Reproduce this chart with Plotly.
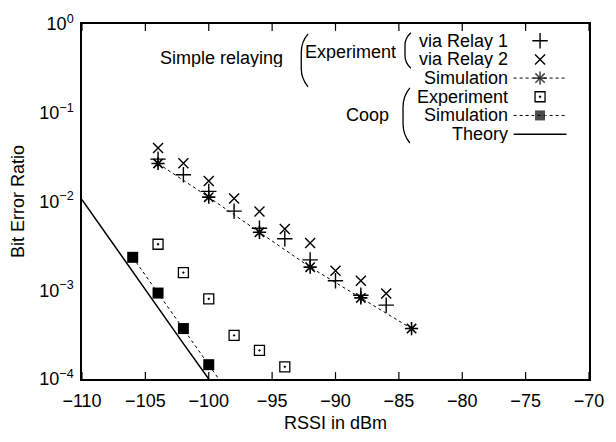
import math
import plotly.graph_objects as go

# ---------------- data ----------------
relay_x = [-104, -102, -100, -98, -96, -94, -92, -90, -88, -86]
relay1_ber = [0.030, 0.020, 0.013, 0.0078, 0.0050, 0.0038, 0.0022, 0.00128, 0.00088, 0.00068]
relay2_ber = [0.040, 0.027, 0.017, 0.0108, 0.0077, 0.0049, 0.0034, 0.00166, 0.00128, 0.00092]

sim_x = [-104, -100, -96, -92, -88, -84]
sim_ber = [0.0268, 0.0112, 0.0045, 0.00182, 0.00082, 0.00037]

coop_exp_x = [-104, -102, -100, -98, -96, -94]
coop_exp_ber = [0.0033, 0.00158, 0.00080, 0.00031, 0.00021, 0.000137]

coop_sim_x = [-106, -104, -102, -100, -98]
coop_sim_ber = [0.00235, 0.00093, 0.00037, 0.000145, 0.000057]

theory_x = [-110, -108, -106, -104, -102, -100]
theory_ber = [0.0105, 0.0041, 0.0016, 0.00064, 0.00025, 0.0001]

x_ticks = [-110, -105, -100, -95, -90, -85, -80, -75, -70]
y_tick_vals = [1e-4, 1e-3, 1e-2, 1e-1, 1]
y_tick_text = ["10<sup>\u22124</sup>", "10<sup>\u22123</sup>", "10<sup>\u22122</sup>",
               "10<sup>\u22121</sup>", "10<sup>0</sup>"]
y_minor_vals = [m * d for d in [1e-4, 1e-3, 1e-2, 1e-1] for m in range(2, 10)]

legend_labels = ["via Relay 1", "via Relay 2", "Simulation", "Experiment", "Simulation", "Theory"]

X_RANGE = [-110, -70]
Y_RANGE_LOG = [-4, 0]

# ---------------- layout geometry (pixels) ----------------
W, H = 616, 442
L, R, T, B = 82, 16, 20, 61
PW, PH = W - L - R, H - T - B

def px(xp):
    return (xp - L) / PW

def py(yp):
    return (H - B - yp) / PH

def dx(xp):  # pixel -> data x
    return X_RANGE[0] + px(xp) * (X_RANGE[1] - X_RANGE[0])

def dy(yp):  # pixel -> data y (log axis)
    return 10 ** (Y_RANGE_LOG[0] + py(yp) * (Y_RANGE_LOG[1] - Y_RANGE_LOG[0]))

FONT = "Liberation Sans, Arial, Helvetica, sans-serif"
BLACK = "black"

fig = go.Figure()

fig.add_trace(go.Scatter(x=theory_x, y=theory_ber, mode="lines",
                         line=dict(color=BLACK, width=1.5), showlegend=False))
fig.add_trace(go.Scatter(x=coop_sim_x, y=coop_sim_ber, mode="lines+markers",
                         line=dict(color=BLACK, width=1, dash="dot"),
                         marker=dict(symbol="square", size=11, color=BLACK),
                         showlegend=False))
fig.add_trace(go.Scatter(x=coop_exp_x, y=coop_exp_ber, mode="markers",
                         marker=dict(symbol="square-open-dot", size=10, color=BLACK,
                                     line=dict(width=1.3, color=BLACK)),
                         showlegend=False))
fig.add_trace(go.Scatter(x=sim_x, y=sim_ber, mode="lines+markers",
                         line=dict(color=BLACK, width=1, dash="dot"),
                         marker=dict(symbol="asterisk-open", size=11, color=BLACK,
                                     line=dict(width=1.6, color=BLACK)),
                         showlegend=False))
fig.add_trace(go.Scatter(x=relay_x, y=relay1_ber, mode="markers",
                         marker=dict(symbol="cross-thin-open", size=11, color=BLACK,
                                     line=dict(width=1.4, color=BLACK)),
                         showlegend=False))
fig.add_trace(go.Scatter(x=relay_x, y=relay2_ber, mode="markers",
                         marker=dict(symbol="x-thin-open", size=10, color=BLACK,
                                     line=dict(width=1.4, color=BLACK)),
                         showlegend=False))

# ---------------- custom legend ----------------
rows = [37, 56, 75, 94, 113, 132]
text_right = 518
mk_x, ln_x0, ln_x1 = 550, 523, 577

def label(txt, xr, ry):
    fig.add_annotation(x=px(xr), y=py(ry), xref="paper", yref="paper",
                       text=txt, showarrow=False, xanchor="right", yanchor="middle",
                       height=18, valign="middle", borderpad=0,
                       font=dict(family=FONT, size=18, color=BLACK))

for lab, ry in zip(legend_labels, rows):
    label(lab, text_right, ry)

label("Simple relaying", 288, 55)
label("Experiment", 404, 48)
label("Coop", 397, 113)

def brace(x0, x1, top, bot):
    h = bot - top
    pts = [(x1, top), (x0, top + 0.15 * h), (x0, top + 0.35 * h),
           (x0, bot - 0.35 * h), (x0, bot - 0.15 * h), (x1, bot)]
    p = [(px(a), py(b)) for a, b in pts]
    path = (f"M {p[0][0]},{p[0][1]} Q {p[1][0]},{p[1][1]} {p[2][0]},{p[2][1]} "
            f"L {p[3][0]},{p[3][1]} Q {p[4][0]},{p[4][1]} {p[5][0]},{p[5][1]}")
    fig.add_shape(type="path", path=path, xref="paper", yref="paper",
                  line=dict(color=BLACK, width=1.3))

brace(306, 313, 30, 84)
brace(412, 418, 29, 65)
brace(410, 417, 85, 141)

def sample(row, line=None, marker=None, only_marker=False):
    yv = dy(rows[row])
    if only_marker:
        fig.add_trace(go.Scatter(x=[dx(mk_x)], y=[yv], mode="markers", marker=marker,
                                 showlegend=False, cliponaxis=False, hoverinfo="skip"))
    else:
        if marker is not None:
            marker = dict(marker)
            marker["size"] = [0, marker["size"], 0]
        fig.add_trace(go.Scatter(x=[dx(ln_x0), dx(mk_x), dx(ln_x1)], y=[yv] * 3,
                                 mode="lines+markers" if marker else "lines",
                                 line=line, marker=marker,
                                 showlegend=False, cliponaxis=False, hoverinfo="skip"))

sample(0, marker=dict(symbol="cross-thin-open", size=11, color=BLACK,
                      line=dict(width=1.4, color=BLACK)), only_marker=True)
sample(1, marker=dict(symbol="x-thin-open", size=10, color=BLACK,
                      line=dict(width=1.4, color=BLACK)), only_marker=True)
sample(2, line=dict(color=BLACK, width=1, dash="dot"),
       marker=dict(symbol="asterisk-open", size=11, color=BLACK, line=dict(width=1.6, color=BLACK)))
sample(3, marker=dict(symbol="square-open-dot", size=10, color=BLACK,
                      line=dict(width=1.3, color=BLACK)), only_marker=True)
sample(4, line=dict(color=BLACK, width=1, dash="dot"),
       marker=dict(symbol="square", size=11, color=BLACK))
sample(5, line=dict(color=BLACK, width=1.5))

# ---------------- inside tick marks (all four sides) ----------------
MAJ, MIN = 7, 4
tick_line = dict(color=BLACK, width=1.2)
for xv in x_ticks:
    fig.add_shape(type="line", xref="x", yref="paper", x0=xv, x1=xv, y0=0, y1=MAJ / PH,
                  line=tick_line)
    fig.add_shape(type="line", xref="x", yref="paper", x0=xv, x1=xv, y0=1, y1=1 - MAJ / PH,
                  line=tick_line)
for yv, ln in [(v, MAJ) for v in y_tick_vals] + [(v, MIN) for v in y_minor_vals]:
    ly = math.log10(yv)
    fig.add_shape(type="line", xref="paper", yref="y", x0=0, x1=ln / PW, y0=ly, y1=ly,
                  line=tick_line)
    fig.add_shape(type="line", xref="paper", yref="y", x0=1, x1=1 - ln / PW, y0=ly, y1=ly,
                  line=tick_line)

fig.update_layout(
    width=W, height=H,
    margin=dict(l=L, r=R, t=T, b=B, pad=0),
    paper_bgcolor="white", plot_bgcolor="white",
    font=dict(family=FONT, size=18, color=BLACK),
    showlegend=False,
)
fig.update_xaxes(range=X_RANGE, tickmode="array", tickvals=x_ticks, ticks="",
                 showline=True, linewidth=1.5, linecolor=BLACK, mirror=True,
                 showgrid=False, zeroline=False, ticklabelstandoff=5,
                 title_text="RSSI in dBm", title_standoff=6,
                 title_font=dict(family=FONT, size=18, color=BLACK),
                 tickfont=dict(family=FONT, size=18, color=BLACK))
fig.update_yaxes(type="log", range=Y_RANGE_LOG, tickmode="array", tickvals=y_tick_vals,
                 ticktext=y_tick_text, ticks="",
                 showline=True, linewidth=1.5, linecolor=BLACK, mirror=True,
                 showgrid=False, zeroline=False, ticklabelstandoff=3,
                 title_text="Bit Error Ratio", title_standoff=10,
                 title_font=dict(family=FONT, size=18, color=BLACK),
                 tickfont=dict(family=FONT, size=18, color=BLACK))

fig.write_html("out.html")
